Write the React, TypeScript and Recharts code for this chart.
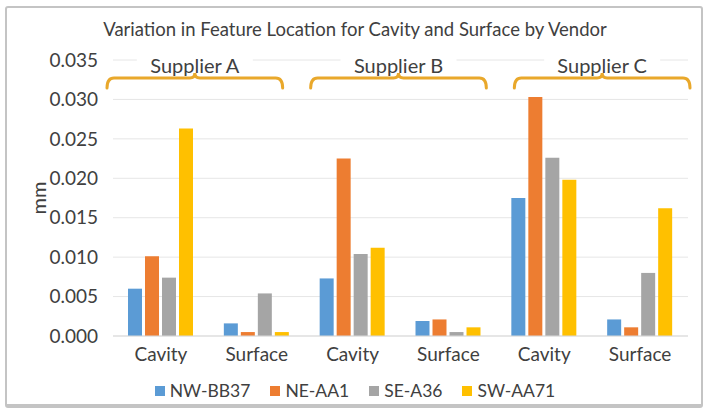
import React from 'react'
import { BarChart, Bar, XAxis, YAxis, CartesianGrid, ReferenceArea } from 'recharts'

const suppliers = ['Supplier A', 'Supplier B', 'Supplier C']
const features = ['Cavity', 'Surface']
const seriesNames = ['NW-BB37', 'NE-AA1', 'SE-A36', 'SW-AA71']
const seriesColors = ['#5B9BD5', '#ED7D31', '#A5A5A5', '#FFC000']

// one value per category: A-Cavity, A-Surface, B-Cavity, B-Surface, C-Cavity, C-Surface
const nwBB37 = [0.006, 0.0016, 0.0073, 0.0019, 0.0175, 0.0021]
const neAA1 = [0.0101, 0.0005, 0.0225, 0.0021, 0.0303, 0.0011]
const seA36 = [0.0074, 0.0054, 0.0104, 0.0005, 0.0226, 0.008]
const swAA71 = [0.0263, 0.0005, 0.0112, 0.0011, 0.0198, 0.0162]
const yTicks = [0, 0.005, 0.01, 0.015, 0.02, 0.025, 0.03, 0.035]

const seriesValues = [nwBB37, neAA1, seA36, swAA71]

const data = suppliers.flatMap((s, si) =>
  features.map((f, fi) => {
    const idx = si * 2 + fi
    const row: any = { key: `${s}|${f}`, feature: f }
    seriesNames.forEach((n, k) => {
      row[n] = seriesValues[k][idx]
    })
    return row
  })
)

const FONT = 'Lato, "Open Sans", sans-serif'
const TEXT = '#404040'
const BRACE = '#E9A82B'

// small hand-placed nudges like in the original annotation
const braceShift = [-14, -2, 10]

const Brace = (props: any) => {
  const { x, y, width, label, index } = props
  const x1 = x + 8 + braceShift[index]
  const x2 = x + width - 8 + braceShift[index]
  const mid = (x1 + x2) / 2
  const ly = y + 18
  const d = `M ${x1} ${ly + 10} Q ${x1} ${ly} ${x1 + 7} ${ly} L ${mid - 5} ${ly} Q ${mid} ${ly} ${mid} ${ly - 5} Q ${mid} ${ly} ${mid + 5} ${ly} L ${x2 - 7} ${ly} Q ${x2} ${ly} ${x2} ${ly + 10}`
  return (
    <g>
      <rect x={mid - 58} y={y - 7} width={116} height={22} fill="#fff" />
      <text x={mid} y={y + 5} textAnchor="middle" dominantBaseline="central" fontSize={20} fill={TEXT} fontFamily={FONT}>
        {label}
      </text>
      <path d={d} fill="none" stroke={BRACE} strokeWidth={3} strokeLinecap="round" />
    </g>
  )
}

export default function App() {
  return (
    <div style={{ position: 'absolute', left: 0, top: 0, width: 710, height: 418, background: '#fff', fontFamily: FONT }}>
      <div
        style={{
          position: 'absolute',
          left: 5,
          top: 6,
          width: 698,
          height: 402,
          border: '2px solid #c4c4c4',
          borderBottomWidth: 4,
          borderRadius: 3,
          boxSizing: 'border-box'
        }}
      />
      <div style={{ position: 'absolute', top: 18, left: 0, width: 710, textAlign: 'center', fontSize: 18.5, color: TEXT }}>
        Variation in Feature Location for Cavity and Surface by Vendor
      </div>
      <div style={{ position: 'absolute', left: 0, top: 0 }}>
        <BarChart
          width={710}
          height={418}
          data={data}
          margin={{ top: 60, right: 22, bottom: 52, left: 28 }}
          barGap={3}
          barSize={14}
        >
          <CartesianGrid vertical={false} stroke="#e6e6e6" />
          <XAxis
            dataKey="key"
            tickFormatter={(v: string) => v.split('|')[1]}
            interval={0}
            tickLine={false}
            axisLine={{ stroke: '#d9d9d9' }}
            tick={{ fontSize: 19, fill: TEXT, fontFamily: FONT }}
            tickMargin={6}
          />
          <YAxis
            domain={[0, 0.035]}
            ticks={yTicks}
            tickFormatter={(v: number) => v.toFixed(3)}
            axisLine={false}
            tickLine={false}
            width={85}
            tickMargin={9}
            tick={{ fontSize: 19, fill: TEXT, fontFamily: FONT }}
            label={{
              content: (p: any) => {
                const vb = p.viewBox
                const cx = vb.x + 10
                const cy = vb.y + vb.height / 2
                return (
                  <text x={cx} y={cy} transform={`rotate(-90 ${cx} ${cy})`} textAnchor="middle" dominantBaseline="central" fontSize={20} fill={TEXT} fontFamily={FONT}>
                    mm
                  </text>
                )
              }
            }}
          />
          {seriesNames.map((n, i) => (
            <Bar key={n} dataKey={n} fill={seriesColors[i]} isAnimationActive={false} />
          ))}
          {suppliers.map((s, i) => (
            <ReferenceArea
              key={s}
              x1={`${s}|Cavity`}
              x2={`${s}|Surface`}
              shape={(p: any) => <Brace {...p} label={s} index={i} />}
            />
          ))}
        </BarChart>
      </div>
      <div
        style={{
          position: 'absolute',
          top: 380,
          left: 0,
          width: 710,
          display: 'flex',
          justifyContent: 'center',
          gap: 20,
          fontSize: 17.5,
          color: TEXT
        }}
      >
        {seriesNames.map((n, i) => (
          <div key={n} style={{ display: 'flex', alignItems: 'center', gap: 5 }}>
            <span style={{ width: 10, height: 10, background: seriesColors[i], display: 'inline-block' }} />
            <span>{n}</span>
          </div>
        ))}
      </div>
    </div>
  )
}
